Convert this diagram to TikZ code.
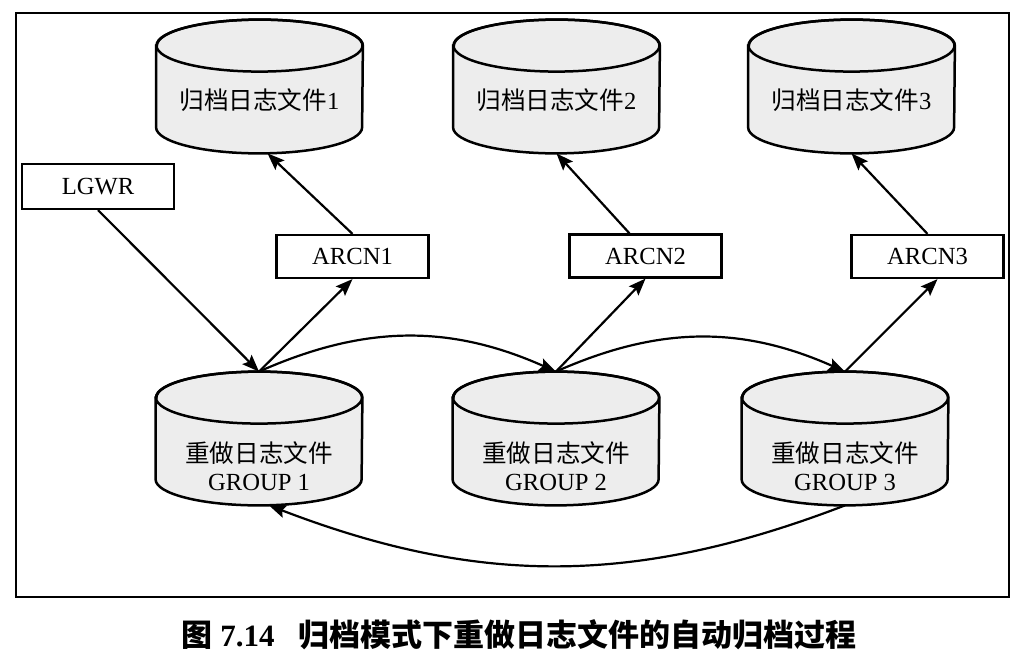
\documentclass[tikz,border=0pt]{standalone}
\usepackage{fontspec}
\setmainfont{Liberation Serif}
\newfontfamily\cjk{Noto Sans CJK SC}
\usetikzlibrary{arrows.meta, calc, backgrounds}
\definecolor{cylgray}{HTML}{EDEDED}

\begin{document}
\begin{tikzpicture}[x=0.5pt, y=-0.5pt,
        font=\fontsize{12.3pt}{14pt}\selectfont,
        cyl/.style={rectangle, minimum width=103pt, minimum height=66.5pt, inner sep=0pt},
        proc/.style={rectangle, draw, line width=1.1pt, minimum width=76pt, minimum height=21.5pt, inner sep=0pt},
        cylline/.style={draw=black, line width=1.25pt, fill=cylgray},
        arrow/.style={-{Stealth[length=8.5pt, width=6.5pt, inset=1.5pt]}, line width=1.1pt}
    ]
    \useasboundingbox (0,0) rectangle (1024,657);
    \draw[line width=1pt] (16,13) rectangle (1009,597);

    % archived log files
    \node[cyl, label={[yshift=-7pt]center:{\cjk 归档日志文件}1}] (arch1) at (259.5,86.5) {};
    \node[cyl, label={[yshift=-7pt]center:{\cjk 归档日志文件}2}] (arch2) at (556.5,86.5) {};
    \node[cyl, label={[yshift=-7pt]center:{\cjk 归档日志文件}3}] (arch3) at (851.5,86.5) {};

    % redo log groups
    \node[cyl, label={[align=center, yshift=-14pt]center:{\cjk 重做日志文件}\\GROUP 1}] (grp1) at (259,438.5) {};
    \node[cyl, label={[align=center, yshift=-14pt]center:{\cjk 重做日志文件}\\GROUP 2}] (grp2) at (556,438.5) {};
    \node[cyl, label={[align=center, yshift=-14pt]center:{\cjk 重做日志文件}\\GROUP 3}] (grp3) at (845,438.5) {};

    \begin{scope}[on background layer]
        \foreach \n in {arch1,arch2,arch3,grp1,grp2,grp3}{
            \path[cylline] ($(\n.north west)+(0pt,-13pt)$) -- ($(\n.south west)+(0pt,13pt)$)
                arc[start angle=180, end angle=360, x radius=51.5pt, y radius=13pt]
                -- ($(\n.north east)+(0pt,-13pt)$)
                arc[start angle=0, end angle=180, x radius=51.5pt, y radius=13pt] -- cycle;
            \draw[line width=1.25pt] ($(\n.north)+(0pt,-13pt)$) ellipse [x radius=51.5pt, y radius=13pt];
        }
    \end{scope}

    % processes
    \node[proc, minimum height=22.5pt] (lgwr) at (98,186.5) {LGWR};
    \node[proc] (arcn1) at (352.5,256.5) {ARCN1};
    \node[proc] (arcn2) at (645.5,256) {ARCN2};
    \node[proc] (arcn3) at (927.5,256.5) {ARCN3};

    \draw[arrow] (lgwr.south) -- (grp1.north);
    \draw[arrow] (grp1.north) -- (arcn1.south);
    \draw[arrow] (arcn1.north) -- ([xshift=4pt]arch1.south);
    \draw[arrow] (grp2.north) -- (arcn2.south);
    \draw[arrow] ([xshift=-8pt]arcn2.north) -- (arch2.south);
    \draw[arrow] (grp3.north) -- ([xshift=5pt]arcn3.south);
    \draw[arrow] (arcn3.north) -- (arch3.south);

    \draw[arrow] (grp1.north) to[bend left=24] (grp2.north);
    \draw[arrow] (grp2.north) to[bend left=24] (grp3.north);
    \draw[arrow] (grp3.south) to[bend left=21] ([xshift=5pt]grp1.south);

    \node[font=\fontsize{15.5pt}{19pt}\selectfont\bfseries] (caption) at (519,635)
        {{\cjk 图} 7.14\hspace{12pt}{\cjk 归档模式下重做日志文件的自动归档过程}};
\end{tikzpicture}
\end{document}
